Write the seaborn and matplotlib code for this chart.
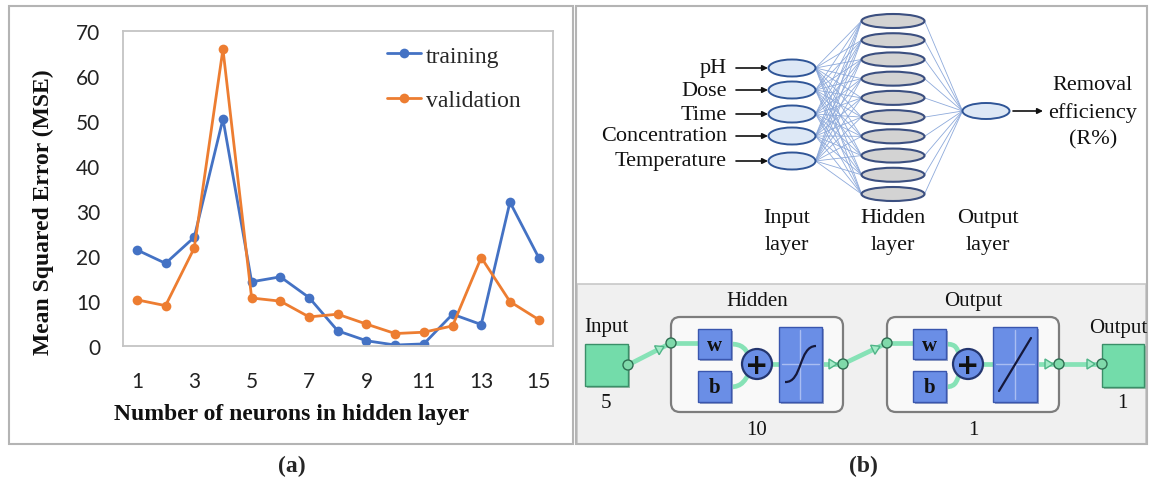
import numpy as np
import pandas as pd
import matplotlib
matplotlib.use('Agg')
import matplotlib.pyplot as plt
import seaborn as sns
from matplotlib.patches import Rectangle, Ellipse, Circle, FancyBboxPatch, PathPatch, Polygon
from matplotlib.path import Path
from matplotlib.lines import Line2D

# ---------------- data ----------------
neurons = list(range(1, 16))
training_mse = [21.3, 18.3, 24.1, 50.4, 14.2, 15.3, 10.7, 3.3, 1.1, 0.15, 0.4, 7.0, 4.7, 31.9, 19.6]
validation_mse = [10.2, 8.9, 21.7, 65.9, 10.6, 9.9, 6.4, 7.0, 4.8, 2.7, 3.0, 4.4, 19.6, 9.8, 5.8]
series_names = ['training', 'validation']
x_ticks = [1, 3, 5, 7, 9, 11, 13, 15]
y_ticks = [0, 10, 20, 30, 40, 50, 60, 70]
input_names = ['pH', 'Dose', 'Time', 'Concentration', 'Temperature']
n_hidden = 10
output_name = ['Removal', 'efficiency', '(R%)']
layer_names = [['Input', 'layer'], ['Hidden', 'layer'], ['Output', 'layer']]
block_sizes = ['5', '10', '1', '1']

sns.set_theme(style='white')
plt.rcParams['font.family'] = ['Liberation Serif', 'DejaVu Serif']
SERIF = 'Liberation Serif'
BLUE = '#4472C4'
ORANGE = '#ED7D31'

fig = plt.figure(figsize=(11.51, 4.85), dpi=100)
bg = fig.add_axes([0, 0, 1, 1])
bg.set_xlim(0, 1151)
bg.set_ylim(485, 0)
bg.axis('off')

# panel frames
bg.add_patch(Rectangle((577, 285), 569, 160, fc='#f0f0f0', ec='#c8c8c8', lw=1.2))
bg.add_patch(Rectangle((9, 7), 564, 438, fill=False, ec='#b4b4b4', lw=1.5))
bg.add_patch(Rectangle((576, 7), 571, 438, fill=False, ec='#b4b4b4', lw=1.5))

# ---------------- (a) line chart ----------------
L, R, T, B = 122.5, 553, 31.7, 346.7
ax = fig.add_axes([L / 1151, 1 - B / 485, (R - L) / 1151, (B - T) / 485])
df = pd.DataFrame({
    'neurons': neurons * 2,
    'mse': training_mse + validation_mse,
    'set': [series_names[0]] * len(neurons) + [series_names[1]] * len(neurons),
})
sns.lineplot(data=df, x='neurons', y='mse', hue='set',
             palette={series_names[0]: BLUE, series_names[1]: ORANGE},
             marker='o', markersize=7, markeredgewidth=0, linewidth=2,
             ax=ax, legend=False)
ax.set_xlim(0.5, 15.5)
ax.set_ylim(0, 70)
ax.set_xticks(x_ticks)
ax.set_yticks(y_ticks)
ax.set_xlabel('')
ax.set_ylabel('')
ax.tick_params(length=0, labelsize=15, colors='#222222')
ax.tick_params(axis='y', pad=16)
ax.tick_params(axis='x', pad=18)
for lab in ax.get_xticklabels() + ax.get_yticklabels():
    lab.set_family('Lato')
for s in ax.spines.values():
    s.set_color('#c4c4c4')
    s.set_linewidth(1.3)
handles = [Line2D([0], [0], color=c, marker='o', ms=7, mew=0, lw=2) for c in (BLUE, ORANGE)]
ax.legend(handles, series_names, loc='upper left', bbox_to_anchor=(387 / 1151, 1 - 46 / 485),
          bbox_transform=fig.transFigure, frameon=False,
          prop={'family': SERIF, 'size': 17}, handlelength=1.45, handletextpad=0.2,
          labelspacing=0.98, borderpad=0, borderaxespad=0)

bg.text(43, 212, 'Mean Squared Error (MSE)', rotation=90, ha='center', va='center',
        fontsize=17, fontweight='bold', family=SERIF, color='#111111')
bg.text(292, 415, 'Number of neurons in hidden layer', ha='center', va='center',
        fontsize=17, fontweight='bold', family=SERIF, color='#111111')
bg.text(292, 466, '(a)', ha='center', va='center', fontsize=17, fontweight='bold', family=SERIF)
bg.text(863, 466, '(b)', ha='center', va='center', fontsize=17, fontweight='bold', family=SERIF)

# ---------------- (b) top: network sketch ----------------
in_x, in_w, in_h = 792, 47, 17
in_ys = [69, 91, 115, 137, 162]
hid_x, hid_w, hid_h = 893, 63, 14
hid_ys = [22 + i * (195 - 22) / (n_hidden - 1) for i in range(n_hidden)]
out_x, out_y, out_w, out_h = 986, 112, 47, 16
LINK = '#8eaadb'
for yi in in_ys:
    for yh in hid_ys:
        bg.plot([in_x + in_w / 2, hid_x - hid_w / 2], [yi, yh], color=LINK, lw=0.6, zorder=2)
for yh in hid_ys:
    bg.plot([hid_x + hid_w / 2, out_x - out_w / 2], [yh, out_y], color=LINK, lw=0.6, zorder=2)
for yi, name in zip(in_ys, input_names):
    bg.add_patch(Ellipse((in_x, yi), in_w, in_h, fc='#dde8f6', ec='#2f5597', lw=1.4, zorder=3))
    bg.text(727, yi, name, ha='right', va='center', fontsize=16, family=SERIF, color='#111111')
    bg.annotate('', xy=(768, yi), xytext=(736, yi),
                arrowprops=dict(arrowstyle='-|>', color='#111111', lw=1.2, mutation_scale=8,
                                shrinkA=0, shrinkB=0))
for yh in hid_ys:
    bg.add_patch(Ellipse((hid_x, yh), hid_w, hid_h, fc='#d3d3d3', ec='#3b4f80', lw=1.5, zorder=3))
bg.add_patch(Ellipse((out_x, out_y), out_w, out_h, fc='#dde8f6', ec='#2f5597', lw=1.4, zorder=3))
bg.annotate('', xy=(1043, out_y), xytext=(1013, out_y),
            arrowprops=dict(arrowstyle='-|>', color='#111111', lw=1.2, mutation_scale=8,
                            shrinkA=0, shrinkB=0))
for i, line in enumerate(output_name):
    bg.text(1093, 86 + i * 27, line, ha='center', va='center', fontsize=16, family=SERIF, color='#111111')
for (name, sub), cx in zip(layer_names, [787, 893, 988]):
    bg.text(cx, 219, name, ha='center', va='center', fontsize=16, family=SERIF, color='#111111')
    bg.text(cx, 246, sub, ha='center', va='center', fontsize=16, family=SERIF, color='#111111')

# ---------------- (b) bottom: block diagram ----------------
GREEN = '#73dcaa'
GREEN_E = '#3a8f68'
LGREEN = '#86e2b6'
BBOX = '#6a8ee6'
BBOX_E = '#3a56ae'


def gline(pts):
    xs, ys = zip(*pts)
    bg.plot(xs, ys, color=LGREEN, lw=3.4, solid_capstyle='round', zorder=4)


def gcurve(p0, p1, p2, p3):
    path = Path([p0, p1, p2, p3], [Path.MOVETO, Path.CURVE4, Path.CURVE4, Path.CURVE4])
    bg.add_patch(PathPatch(path, fc='none', ec=LGREEN, lw=3.4, zorder=4))


def node(x, y):
    bg.add_patch(Circle((x, y), 5, fc='#7fd9aa', ec='#2f6e52', lw=1.0, zorder=7))


def tri(x, y, ang=0.0):
    ca, sa = np.cos(ang), np.sin(ang)
    base = [(-8, -5), (-8, 5), (0, 0)]
    pts = [(x + px * ca - py * sa, y + px * sa + py * ca) for px, py in base]
    bg.add_patch(Polygon(pts, closed=True, fc='#a4ecc8', ec='#4fb487', lw=1.0, zorder=6))


def bluebox(x0, y0, x1, y1, label=None):
    bg.add_patch(Rectangle((x0 + 2, y0 + 2), x1 - x0, y1 - y0, fc='#9aa6c8', ec='none', zorder=4))
    bg.add_patch(Rectangle((x0, y0), x1 - x0, y1 - y0, fc=BBOX, ec=BBOX_E, lw=1.0, zorder=5))
    if label:
        bg.text((x0 + x1) / 2, (y0 + y1) / 2 + 1, label, ha='center', va='center', fontsize=15,
                fontweight='bold', family=SERIF, color='#111111', zorder=6)


def plus(x, y):
    bg.add_patch(Circle((x, y), 15, fc=BBOX, ec='#24366f', lw=1.6, zorder=6))
    bg.text(x, y + 1, '+', ha='center', va='center', fontsize=20, fontweight='bold',
            family='DejaVu Sans', color='#111111', zorder=7)


def greensq(x0, y0, x1, y1):
    bg.add_patch(Rectangle((x0 + 2, y0 + 2), x1 - x0, y1 - y0, fc='#9ab8a8', ec='none', zorder=4))
    bg.add_patch(Rectangle((x0, y0), x1 - x0, y1 - y0, fc=GREEN, ec=GREEN_E, lw=1.0, zorder=5))


def layer_block(x0, x1, title, size, wx, px, tx0, tx1, sigmoid):
    bg.add_patch(FancyBboxPatch((x0, 318), x1 - x0, 95, boxstyle='round,pad=0,rounding_size=9',
                                fc='#f9f9f9', ec='#7d7d7d', lw=1.6, zorder=3))
    bg.text((x0 + x1) / 2, 302, title, ha='center', va='center', fontsize=15, family=SERIF, color='#111111')
    bg.text((x0 + x1) / 2, 431, size, ha='center', va='center', fontsize=15, family=SERIF, color='#111111')
    gline([(x0, 344), (wx, 344)])
    gcurve((wx + 32, 345), (wx + 45, 345), (px - 12, 350), (px - 8, 356))
    gcurve((wx + 32, 388), (wx + 45, 388), (px - 12, 380), (px - 8, 375))
    gline([(px + 15, 365), (tx0, 365)])
    gline([(tx1, 365), (x1, 365)])
    bluebox(wx, 330, wx + 33, 360, 'w')
    bluebox(wx, 372, wx + 33, 403, 'b')
    plus(px, 365)
    bluebox(tx0, 328, tx1, 403)
    cx = (tx0 + tx1) / 2
    bg.plot([tx0 + 3, tx1 - 3], [365, 365], color='#a9bdf2', lw=1.0, zorder=6)
    bg.plot([cx, cx], [331, 400], color='#a9bdf2', lw=1.0, zorder=6)
    if sigmoid:
        path = Path([(tx0 + 6, 383), (cx + 2, 384), (cx - 2, 347), (tx1 - 6, 347)],
                    [Path.MOVETO, Path.CURVE4, Path.CURVE4, Path.CURVE4])
        bg.add_patch(PathPatch(path, fc='none', ec='#15183a', lw=1.6, zorder=7))
    else:
        bg.plot([tx0 + 6, tx1 - 6], [392, 339], color='#15183a', lw=1.6, zorder=7)
    tri(x1 - 6, 365)
    node(x0, 344)
    node(x1, 365)


# input square
greensq(585, 345, 628, 387)
bg.text(606, 328, 'Input', ha='center', va='center', fontsize=15, family=SERIF, color='#111111')
bg.text(606, 404, block_sizes[0], ha='center', va='center', fontsize=15, family=SERIF, color='#111111')
gline([(628, 366), (671, 344)])
ang1 = np.arctan2(344 - 366, 671 - 628)
tri(664, 347.6, ang1)
node(628, 366)

layer_block(671, 843, 'Hidden', block_sizes[1], 698, 757, 779, 822, True)
gline([(843, 365), (887, 344)])
ang2 = np.arctan2(344 - 365, 887 - 843)
tri(880, 347.3, ang2)
layer_block(887, 1059, 'Output', block_sizes[2], 913, 968, 993, 1037, False)

# output square
greensq(1102, 345, 1144, 388)
gline([(1059, 365), (1102, 365)])
tri(1095, 365)
node(1102, 365)
bg.text(1118, 329, 'Output', ha='center', va='center', fontsize=15, family=SERIF, color='#111111')
bg.text(1122, 404, block_sizes[3], ha='center', va='center', fontsize=15, family=SERIF, color='#111111')

fig.savefig('out.png', dpi=100)
